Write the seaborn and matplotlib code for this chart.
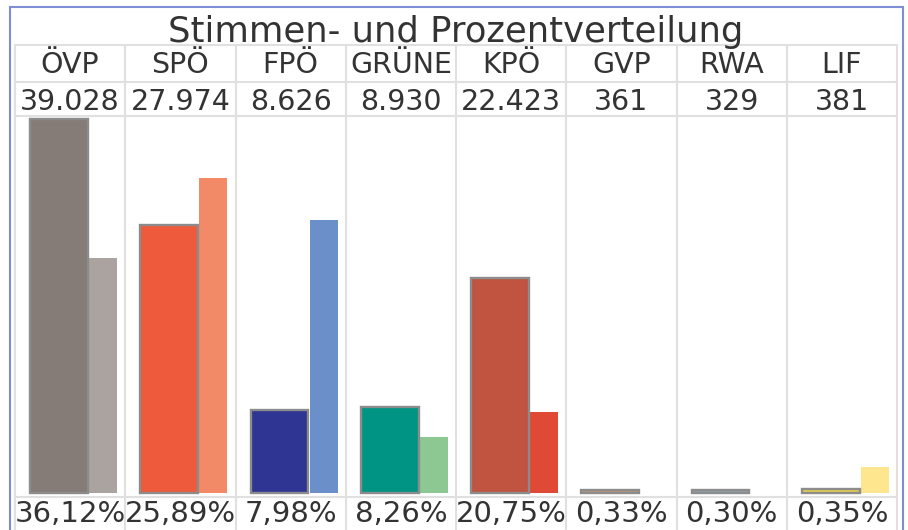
import numpy as np
import pandas as pd
import matplotlib
matplotlib.use("Agg")
import matplotlib.pyplot as plt
import seaborn as sns
from matplotlib.lines import Line2D
from matplotlib.patches import Rectangle

# values
parties = ['ÖVP', 'SPÖ', 'FPÖ', 'GRÜNE', 'KPÖ', 'GVP', 'RWA', 'LIF']
votes = ['39.028', '27.974', '8.626', '8.930', '22.423', '361', '329', '381']
pct_now = [36.12, 25.89, 7.98, 8.26, 20.75, 0.33, 0.30, 0.35]
pct_prev = [22.7, 30.4, 26.4, 5.4, 7.8, 0.0, 0.0, 2.5]
colors_now = ['#857c78', '#ee5a3c', '#2e3592', '#009484', '#c05440', '#c4956f', '#8fa9bd', '#e3d04e']
colors_prev = ['#aaa39f', '#f28a68', '#6b8fc8', '#8dc893', '#e04a35', '#c4956f', '#8fa9bd', '#fde68d']

W, H = 908, 530
sns.set_theme(style="white")
plt.rcParams['font.family'] = ['DejaVu Sans']

fig = plt.figure(figsize=(W / 100, H / 100), dpi=100)

def fx(x):
    return x / W

def fy(y):
    return 1 - y / H

# table geometry in pixels
x0, x1 = 15, 897
col_w = (x1 - x0) / len(parties)
base_y, top_y = 493, 119

ax = fig.add_axes([fx(x0), fy(base_y), fx(x1 - x0), (base_y - top_y) / H])
ax.patch.set_alpha(0)

now = pd.DataFrame({'party': parties, 'pct': pct_now,
                    'pos': np.arange(len(parties)) + 44 / col_w})
prev = pd.DataFrame({'party': parties, 'pct': pct_prev,
                     'pos': np.arange(len(parties)) + 88 / col_w})
prev = prev[prev['pct'] > 0]

sns.barplot(data=prev, x='pos', y='pct', hue='party', palette=dict(zip(parties, colors_prev)),
            native_scale=True, width=28 / col_w, dodge=False, errorbar=None, saturation=1,
            legend=False, linewidth=0, ax=ax)
sns.barplot(data=now, x='pos', y='pct', hue='party', palette=dict(zip(parties, colors_now)),
            native_scale=True, width=58 / col_w, dodge=False, errorbar=None, saturation=1,
            legend=False, edgecolor='#8c8c8c', linewidth=1.7, ax=ax)
for p in ax.patches:
    p.set_clip_on(False)

ax.set_xlim(0, len(parties))
ax.set_ylim(0, max(pct_now))
ax.set_axis_off()

# grid lines of the table
grid = '#e2e0de'
for i in range(len(parties) + 1):
    x = x0 + i * col_w
    fig.add_artist(Line2D([fx(x), fx(x)], [fy(45), fy(535)], color=grid, lw=1.5, zorder=0))
for y in [45, 82, 116, 497]:
    fig.add_artist(Line2D([fx(x0), fx(x1)], [fy(y), fy(y)], color=grid, lw=1.5, zorder=0))

# outer frame
fig.add_artist(Rectangle((fx(10), fy(540)), fx(903 - 10), (540 - 7) / H,
                         fill=False, edgecolor='#7f8ed4', lw=1.5))

txt = '#333333'
fig.text(fx(456), fy(42), 'Stimmen- und Prozentverteilung', ha='center', va='baseline',
         fontsize=25.5, color=txt)
for i, p in enumerate(parties):
    cx = fx(x0 + (i + 0.5) * col_w)
    fig.text(cx, fy(73), p, ha='center', va='baseline', fontsize=20.5, color=txt)
    fig.text(cx, fy(110), votes[i], ha='center', va='baseline', fontsize=20.5, color=txt)
    fig.text(cx, fy(522), f'{pct_now[i]:.2f}%'.replace('.', ','), ha='center',
             va='baseline', fontsize=21, color=txt)

fig.savefig('out.png', dpi=100)
